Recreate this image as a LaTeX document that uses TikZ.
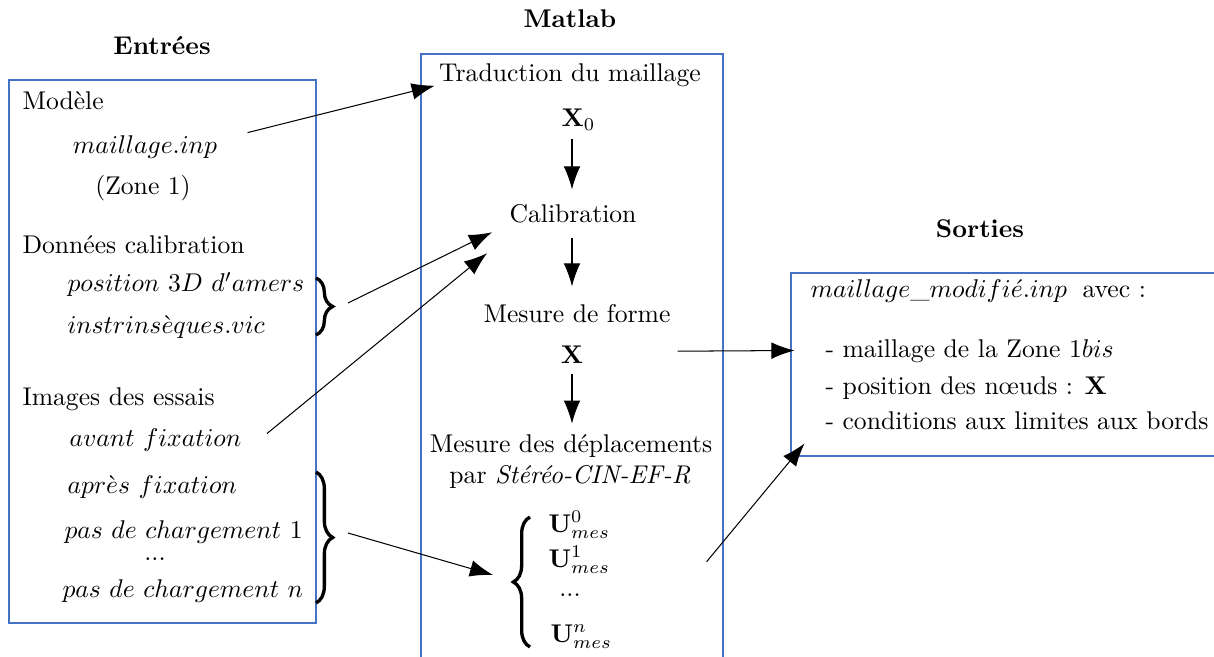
\documentclass[tikz,border=0pt]{standalone}
\usetikzlibrary{arrows.meta,calc,fit,decorations.pathreplacing}
\definecolor{boxblue}{RGB}{68,114,196}

\begin{document}
\begin{tikzpicture}[x=0.39pt, y=-0.39pt,
  box/.style={draw=boxblue, inner sep=0pt},
  txt/.style={inner sep=0pt, anchor=base west},
  ctxt/.style={inner sep=0pt, anchor=base},
  curly/.style={decorate, decoration={brace, amplitude=6.5pt}, line width=1.3pt},
  flow/.style={-{Latex[length=9pt,width=6.5pt]}}]

  % page frame in pixels of the reference
  \path[use as bounding box, clip] (0,0) rectangle (1214,657);

  % ---- titles ----
  \node[ctxt, font=\bfseries] (tin)  at (162,55)  {Entrées};
  \node[ctxt, font=\bfseries] (tmat) at (570,28)  {Matlab};
  \node[ctxt, font=\bfseries] (tout) at (980,238) {Sorties};

  % ---- inputs ----
  \node[box, fit={(9,80) (316,623)}] (inbox) {};
  \node[txt]  (modele)  at (22,110)  {Modèle};
  \node[ctxt] (inp)     at (145,154) {$maillage.inp$};
  \node[ctxt] (zone)    at (143,195) {(Zone 1)};
  \node[txt]  (donnees) at (22,254)  {Données calibration};
  \node[txt]  (amers)   at (67,292)  {$position\ 3D\ d'amers$};
  \node[txt]  (vic)     at (67,334)  {$instrins\grave{e}ques.vic$};
  \node[txt]  (images)  at (22,405)  {Images des essais};
  \node[txt]  (avant)   at (69,446)  {$avant\ fixation$};
  \node[txt]  (apres)   at (67,493)  {$apr\grave{e}s\ fixation$};
  \node[txt]  (pasun)   at (64,538)  {$pas\ de\ chargement\ 1$};
  \node[ctxt] (dotsin)  at (155,560) {...};
  \node[txt]  (pasn)    at (62,597)  {$pas\ de\ chargement\ n$};

  % braces grouping the inputs (tips named)
  \draw[curly] (316,278) -- (316,335);
  \coordinate (brcal) at (335,306);
  \draw[curly] (316,472) -- (316,603);
  \coordinate (brimg) at (335,537);

  % ---- Matlab ----
  \node[box, fit={(421,54) (723,700)}] (matbox) {};
  \node[ctxt] (trad)  at (570,82)  {Traduction du maillage};
  \node[txt]  (xzero) at (561,127) {$\mathbf{X}_0$};
  \node[ctxt] (calib) at (573,223) {Calibration};
  \node[ctxt] (forme) at (577,323) {Mesure de forme};
  \node[ctxt] (xf)    at (572,363) {$\mathbf{X}$};
  \node[ctxt] (depl)  at (571,452) {Mesure des déplacements};
  \node[ctxt] (par)   at (570,483) {par \textit{Stéréo-CIN-EF-R}};

  \draw[curly] (530,647) -- (530,517);
  \coordinate (bru) at (509,582);
  \node[txt]  (uzero) at (548,532) {$\mathbf{U}^0_{mes}$};
  \node[txt]  (uone)  at (548,567) {$\mathbf{U}^1_{mes}$};
  \node[ctxt] (dotsu) at (570,596) {...};
  \node[txt]  (un)    at (550,642) {$\mathbf{U}^n_{mes}$};

  % ---- outputs ----
  \node[box, fit={(791,273) (1230,456)}] (outbox) {};
  \node[txt] (modif) at (810,297)  {$maillage\_modifi\acute{e}.inp$};
  \node[txt] (avec)  at (1082,297) {avec :};
  \node[txt] (lone)  at (825,358)  {- maillage de la Zone 1$bis$};
  \node[txt] (ltwo)  at (825,395)  {- position des nœuds : $\mathbf{X}$};
  \node[txt] (lthr)  at (825,430)  {- conditions aux limites aux bords};

  % ---- arrows ----
  \draw[flow] ($(xzero.south west)+(11,8)$) -- ($(calib.north)+(-1,-15)$);
  \draw[flow] ($(calib.south)+(-1,14)$) -- ($(forme.north)+(-5,-18)$);
  \draw[flow] ($(xf.south)+(0,10)$) -- ($(depl.north)+(1,-10)$);

  \draw[flow] ($(inp.east)+(30,-15)$) -- ($(trad.west)+(-4,10)$);
  \draw[flow] ($(brcal)+(13,-3)$) -- ($(calib.west)+(-17,18)$);
  \draw[flow] ($(avant.east)+(25,-6)$) -- ($(calib.west)+(-22,39)$);
  \draw[flow] ($(brimg)+(13,-4)$) -- ($(bru)+(-16,-7)$);

  \draw[flow] ($(xf.east)+(94,-3)$) -- ($(outbox.west)+(4,-14)$);
  \draw[flow] ($(uone.east)+(96,2)$) -- ($(outbox.south west)+(14,-13)$);

\end{tikzpicture}
\end{document}
